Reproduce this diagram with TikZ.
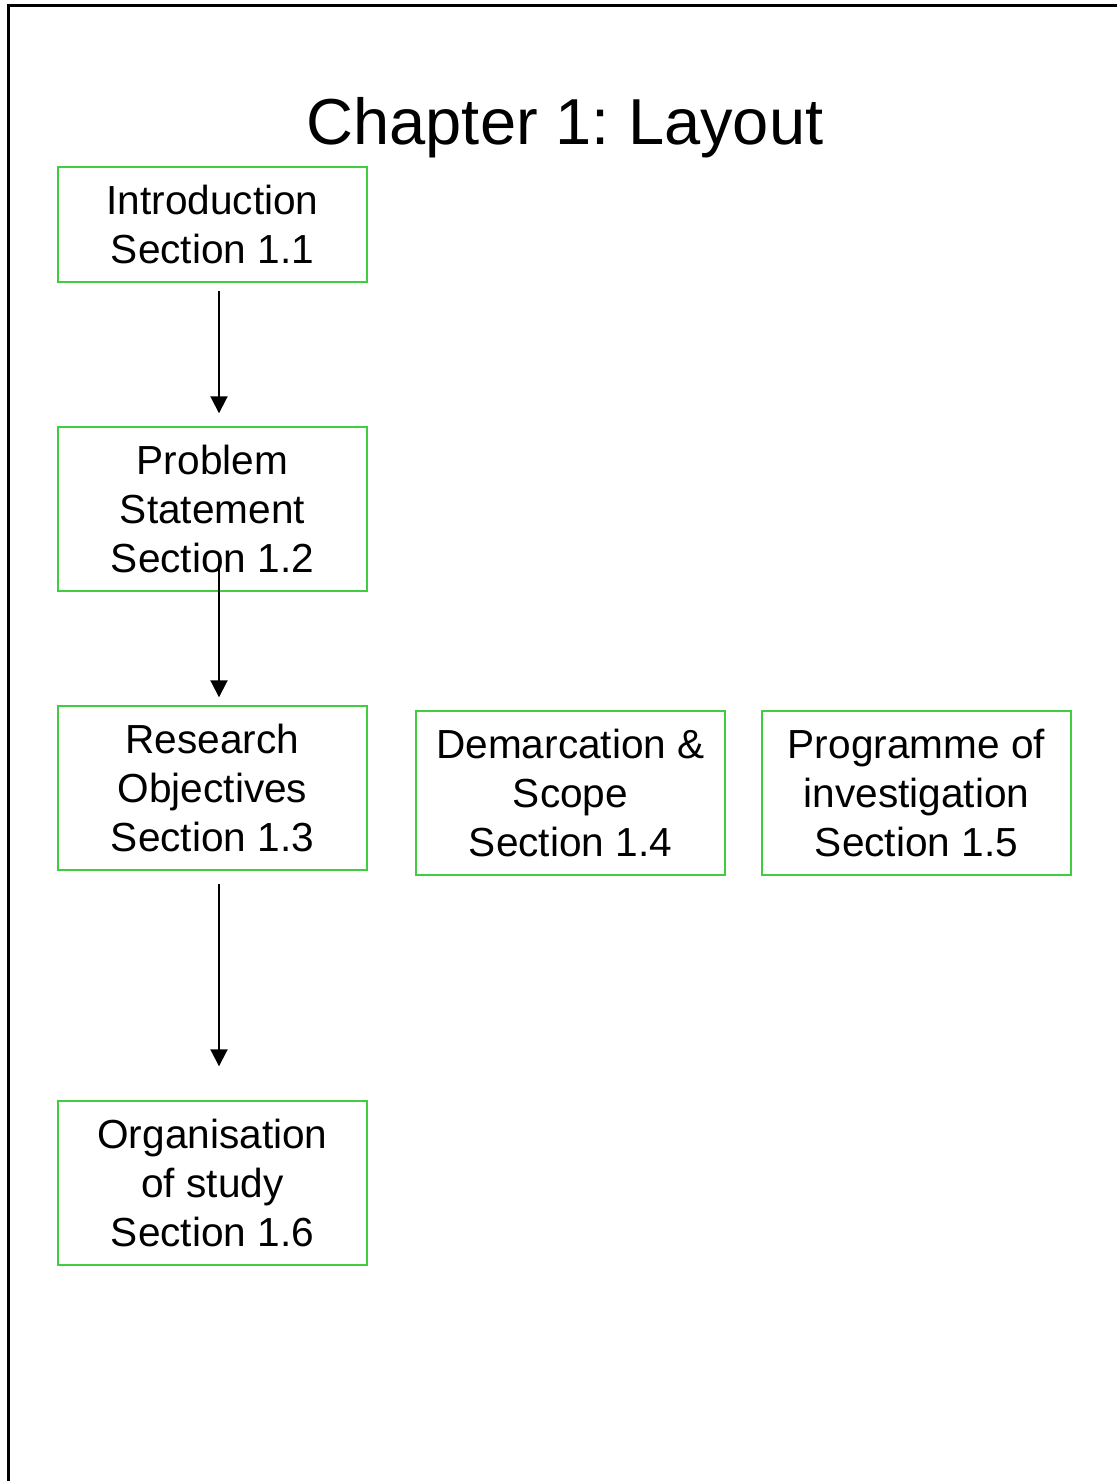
\documentclass[tikz,border=0pt]{standalone}
\usepackage{fontspec}
\setmainfont{Liberation Sans}
\usetikzlibrary{arrows.meta}
\definecolor{boxgreen}{RGB}{64,206,64}
\frenchspacing
\tikzset{
  secbox/.style={draw=boxgreen, line width=1.4pt, minimum width=309pt,
    minimum height=164pt, inner sep=0pt, align=center,
    font=\fontsize{40.6}{49}\selectfont},
  flow/.style={line width=2pt, -{Triangle[length=17pt,width=17pt]}}
}
\begin{document}
\begin{tikzpicture}[x=1pt,y=1pt]
\useasboundingbox (0,0) rectangle (1117,1481);
% page frame (left and top edges)
\draw[line width=3pt] (8,0) -- (8,1475) -- (1117,1475);
% title
\node (title) at (565,1353) {\fontsize{65}{78}\selectfont Chapter 1: Layout};
% section boxes
\node[secbox, minimum height=115pt] (intro) at (212.5,1256.5) {Introduction\\Section 1.1};
\node[secbox] (problem) at (212.5,972) {Problem\\Statement\\Section 1.2};
\node[secbox] (research) at (212.5,693) {Research\\Objectives\\Section 1.3};
\node[secbox] (scope) at (570.5,688) {Demarcation \&\\Scope\\Section 1.4};
\node[secbox] (programme) at (916.5,688) {Programme of\\investigation\\Section 1.5};
\node[secbox] (organisation) at (212.5,298) {Organisation\\of study\\Section 1.6};
% flow arrows
\draw[flow] ([shift={(6.5,-8)}]intro.south) -- ([shift={(6.5,13)}]problem.north);
\draw[flow] ([shift={(6.5,27)}]problem.south) -- ([shift={(6.5,8)}]research.north);
\draw[flow] ([shift={(6.5,-13)}]research.south) -- ([shift={(6.5,34)}]organisation.north);
\end{tikzpicture}
\end{document}
